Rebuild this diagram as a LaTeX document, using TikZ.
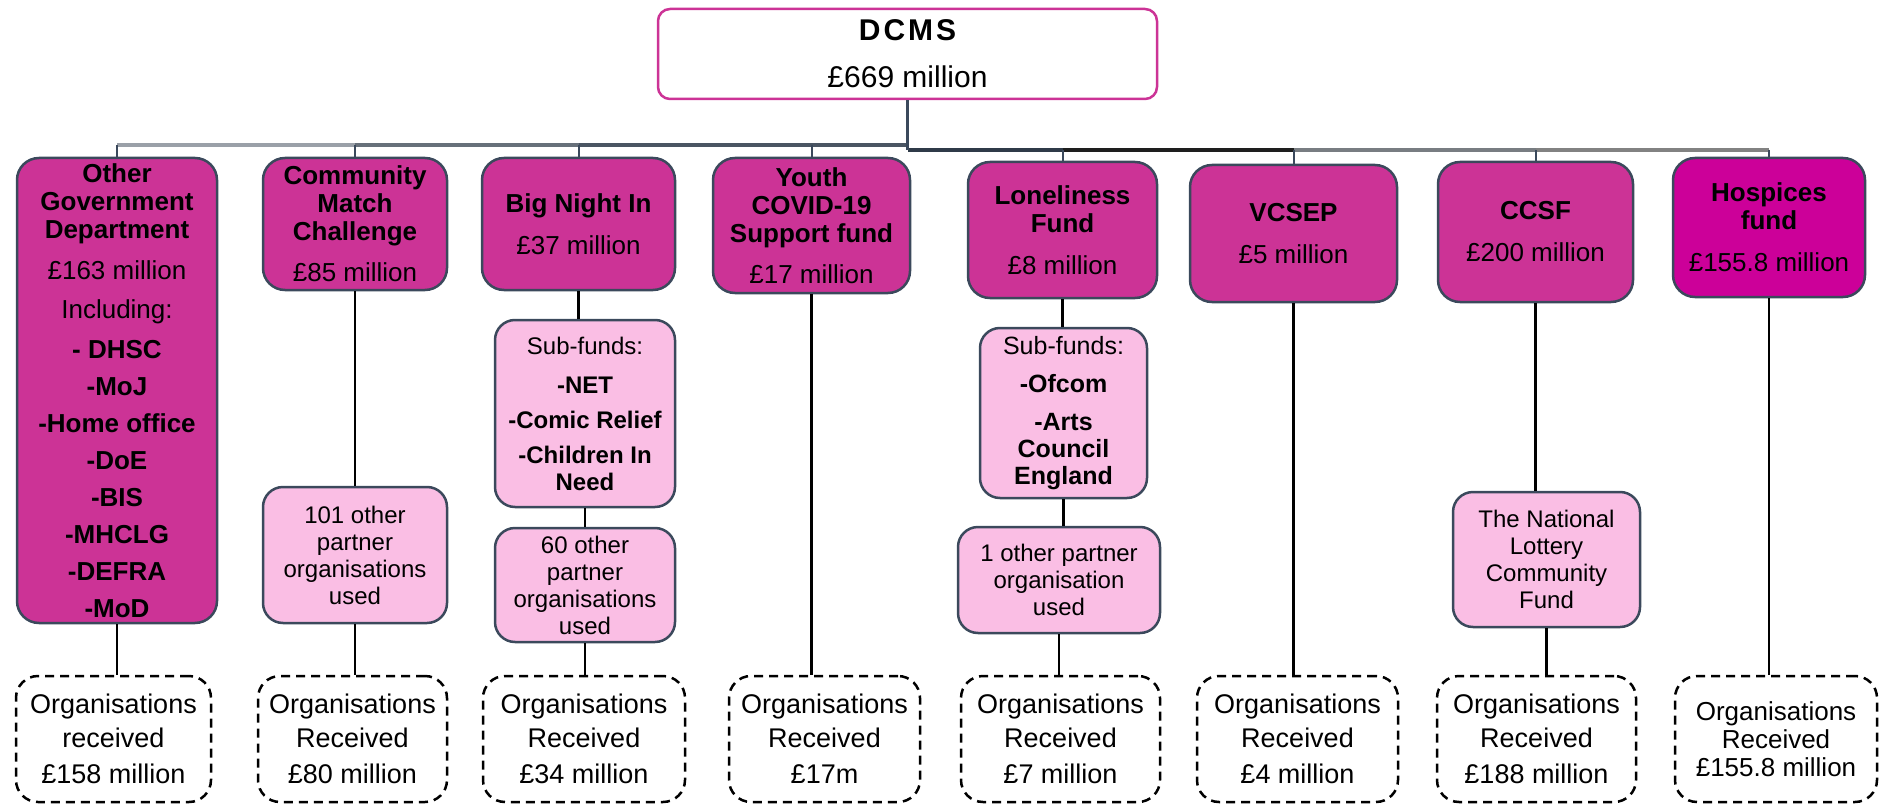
\documentclass[tikz,border=0pt]{standalone}
\usepackage{fontspec}
\setmainfont{Liberation Sans}
\definecolor{fundmag}{RGB}{204,51,150}
\definecolor{hospmag}{RGB}{204,0,153}
\definecolor{subpink}{RGB}{250,190,228}
\definecolor{edgeslate}{RGB}{59,73,92}
\tikzset{
	rootbox/.style={draw=fundmag, line width=2.5pt, rounded corners=12pt, fill=white, align=center, inner sep=1pt, font=\fontsize{30}{33}\selectfont},
	fundbox/.style={draw=edgeslate, line width=2.5pt, rounded corners=22pt, fill=fundmag, align=center, inner sep=1pt, font=\bfseries\fontsize{26}{28}\selectfont},
	subbox/.style={draw=edgeslate, line width=2.5pt, rounded corners=20pt, fill=subpink, align=center, inner sep=1pt, font=\fontsize{24}{27}\selectfont},
	orgbox/.style={draw=black, line width=2.5pt, dash pattern=on 9pt off 6pt, rounded corners=22pt, fill=white, align=center, inner sep=1pt, font=\fontsize{27}{34}\selectfont},
	bus/.style={line width=4.5pt},
	tick/.style={draw=edgeslate, line width=2pt},
	link/.style={draw=black, line width=2.5pt}
}
\begin{document}
\begin{tikzpicture}[x=1pt,y=-1pt]
	\useasboundingbox (0,0) rectangle (1881,805);
	\node[rootbox, minimum width=499pt, minimum height=90pt] (dcms) at (907.5,54) {{\bfseries\addfontfeatures{LetterSpace=10}DCMS}\\[14pt]£669 million};
	\node[fundbox, minimum width=200pt, minimum height=465pt] (ogd) at (117,390.5) {Other\\Government\\Department\\[13pt]{\mdseries £163 million}\\[11pt]{\mdseries Including:}\\[12pt]- DHSC\\[9pt]-MoJ\\[9pt]-Home office\\[9pt]-DoE\\[9pt]-BIS\\[9pt]-MHCLG\\[9pt]-DEFRA\\[9pt]-MoD};
	\node[fundbox, minimum width=184pt, minimum height=132pt] (cmc) at (355,224) {Community\\Match\\Challenge\\[13pt]{\mdseries £85 million}};
	\node[fundbox, minimum width=193pt, minimum height=132pt] (bni) at (578.5,224) {Big Night In\\[14pt]{\mdseries £37 million}};
	\node[fundbox, minimum width=197pt, minimum height=135pt] (youth) at (811.5,225.5) {Youth\\COVID-19\\Support fund\\[13pt]{\mdseries £17 million}};
	\node[fundbox, minimum width=189pt, minimum height=136pt] (lon) at (1062.5,230) {Loneliness\\Fund\\[14pt]{\mdseries £8 million}};
	\node[fundbox, minimum width=207pt, minimum height=137pt] (vcsep) at (1293.5,233.5) {VCSEP\\[14pt]{\mdseries £5 million}};
	\node[fundbox, minimum width=195pt, minimum height=140pt] (ccsf) at (1535.5,232) {CCSF\\[14pt]{\mdseries £200 million}};
	\node[fundbox, fill=hospmag, minimum width=192pt, minimum height=139pt] (hosp) at (1769,227.5) {Hospices\\fund\\[14pt]{\mdseries £155.8 million}};

	\node[subbox, minimum width=184pt, minimum height=136pt] (cmcp) at (355,555) {101 other\\partner\\organisations\\used};
	\node[subbox, minimum width=180pt, minimum height=187pt] (bnis) at (585,413.5) {Sub-funds:\\[12pt]\textbf{-NET}\\[8pt]\textbf{-Comic Relief}\\[8pt]\textbf{-Children In}\\\textbf{Need}};
	\node[subbox, minimum width=180pt, minimum height=114pt] (bnip) at (585,585) {60 other\\partner\\organisations\\used};
	\node[subbox, font=\fontsize{25}{27}\selectfont, minimum width=167pt, minimum height=170pt] (lons) at (1063.5,413) {Sub-funds:\\[11pt]\textbf{-Ofcom}\\[11pt]\textbf{-Arts}\\\textbf{Council}\\\textbf{England}};
	\node[subbox, minimum width=202pt, minimum height=106pt] (lonp) at (1059,580) {1 other partner\\organisation\\used};
	\node[subbox, minimum width=187pt, minimum height=135pt] (ccsp) at (1546.5,559.5) {The National\\Lottery\\Community\\Fund};

	\node[orgbox, minimum width=195pt, minimum height=126pt] (org1) at (113.5,739) {Organisations\\received\\[2pt]£158 million};
	\node[orgbox, minimum width=189pt, minimum height=126pt] (org2) at (352.5,739) {Organisations\\Received\\[2pt]£80 million};
	\node[orgbox, minimum width=202pt, minimum height=126pt] (org3) at (584,739) {Organisations\\Received\\[2pt]£34 million};
	\node[orgbox, minimum width=191pt, minimum height=126pt] (org4) at (824.5,739) {Organisations\\Received\\[2pt]£17m};
	\node[orgbox, minimum width=199pt, minimum height=126pt] (org5) at (1060.5,739) {Organisations\\Received\\[2pt]£7 million};
	\node[orgbox, minimum width=201pt, minimum height=126pt] (org6) at (1297.5,739) {Organisations\\Received\\[2pt]£4 million};
	\node[orgbox, minimum width=199pt, minimum height=126pt] (org7) at (1536.5,739) {Organisations\\Received\\[2pt]£188 million};
	\node[orgbox, font=\fontsize{26}{28}\selectfont, minimum width=202pt, minimum height=126pt] (org8) at (1776,739) {Organisations\\Received\\£155.8 million};

	\coordinate (busL) at (dcms.south |- 0,145);
	\coordinate (busR) at (dcms.south |- 0,150);
	\coordinate (b1) at (ogd.north |- busL);
	\coordinate (b2) at (cmc.north |- busL);
	\coordinate (b3) at (bni.north |- busL);
	\coordinate (b4) at (youth.north |- busL);
	\coordinate (b5) at (lon.north |- busR);
	\coordinate (b6) at (vcsep.north |- busR);
	\coordinate (b7) at (ccsf.north |- busR);
	\coordinate (b8) at (hosp.north |- busR);
	\draw[bus, color={rgb,255:red,154;green,160;blue,168}] (b1) -- (b2);
	\draw[bus, color={rgb,255:red,103;green,112;blue,122}] (b2) -- (b3);
	\draw[bus, color={rgb,255:red,74;green,85;blue,99}] (b3) -- (busL);
	\draw[bus, color={rgb,255:red,47;green,58;blue,72}] (busR) -- (b5);
	\draw[bus, color={rgb,255:red,30;green,30;blue,30}] (b5) -- (b6);
	\draw[bus, color={rgb,255:red,120;green,125;blue,130}] (b6) -- (b7);
	\draw[bus, color={rgb,255:red,130;green,130;blue,130}] (b7) -- (b8);
	\draw[tick, line width=3pt] (dcms.south) -- (busR);
	\draw[tick] (b1) -- (ogd.north);
	\draw[tick] (b2) -- (cmc.north);
	\draw[tick] (b3) -- (bni.north);
	\draw[tick] (b4) -- (youth.north);
	\draw[tick] (b5) -- (lon.north);
	\draw[tick] (b6) -- (vcsep.north);
	\draw[tick] (b7) -- (ccsf.north);
	\draw[tick] (b8) -- (hosp.north);

	\draw[link] (ogd.south) -- (ogd.south |- org1.north);
	\draw[link] (cmc.south) -- (cmc.south |- cmcp.north);
	\draw[link] (cmcp.south) -- (cmcp.south |- org2.north);
	\draw[link] (bni.south) -- (bni.south |- bnis.north);
	\draw[link] (bnis.south) -- (bnis.south |- bnip.north);
	\draw[link] (bnip.south) -- (bnip.south |- org3.north);
	\draw[link] (youth.south) -- (youth.south |- org4.north);
	\draw[link] (lon.south) -- (lon.south |- lons.north);
	\draw[link] (lons.south) -- (lons.south |- lonp.north);
	\draw[link] (lonp.south) -- (lonp.south |- org5.north);
	\draw[link] (vcsep.south) -- (vcsep.south |- org6.north);
	\draw[link] (ccsf.south) -- (ccsf.south |- ccsp.north);
	\draw[link] (ccsp.south) -- (ccsp.south |- org7.north);
	\draw[link] (hosp.south) -- (hosp.south |- org8.north);
\end{tikzpicture}
\end{document}
